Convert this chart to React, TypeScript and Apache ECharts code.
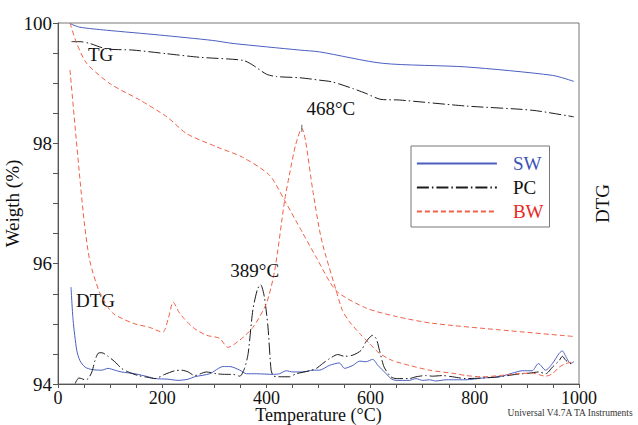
import React, { useEffect, useRef } from "react";
import * as echarts from "echarts";

// Temperature (°C), value pairs
const swTG: number[][] = [
  [23, 99.99], [42, 99.93], [93, 99.88], [195, 99.8], [297, 99.71], [336, 99.66],
  [464, 99.55], [502, 99.52], [623, 99.33], [783, 99.27], [949, 99.13], [990, 99.03],
];
const pcTG: number[][] = [
  [26, 99.69], [42, 99.69], [61, 99.66], [93, 99.57], [144, 99.55], [208, 99.49],
  [272, 99.43], [355, 99.38], [374, 99.3], [400, 99.15], [419, 99.11], [464, 99.09],
  [502, 99.05], [527, 99.02], [566, 98.91], [591, 98.83], [620, 98.73], [655, 98.72],
  [783, 98.62], [910, 98.55], [990, 98.44],
];
const bwTG: number[][] = [
  [23, 100], [36, 99.66], [55, 99.33], [100, 98.99], [157, 98.72], [209, 98.44],
  [247, 98.16], [305, 97.94], [354, 97.77], [406, 97.47], [435, 97.05], [469, 96.52],
  [496, 96.1], [534, 95.55], [592, 95.26], [650, 95.12], [718, 95.01], [847, 94.9],
  [990, 94.79],
];
const swDTG: number[][] = [
  [25, 95.61], [29, 95.06], [36, 94.56], [42, 94.39], [52, 94.28], [65, 94.24],
  [84, 94.23], [96, 94.26], [109, 94.23], [122, 94.2], [148, 94.17], [173, 94.12],
  [186, 94.09], [211, 94.08], [230, 94.06], [250, 94.08], [262, 94.12], [291, 94.17],
  [317, 94.29], [330, 94.29], [349, 94.23], [362, 94.17], [381, 94.17], [413, 94.16],
  [425, 94.17], [438, 94.22], [451, 94.2], [470, 94.2], [489, 94.23], [502, 94.23],
  [521, 94.31], [540, 94.35], [550, 94.26], [566, 94.31], [579, 94.38], [591, 94.37],
  [604, 94.41], [614, 94.31], [630, 94.17], [639, 94.09], [649, 94.06], [674, 94.06],
  [687, 94.09], [700, 94.06], [713, 94.07], [725, 94.05], [745, 94.07], [764, 94.07],
  [783, 94.07], [815, 94.1], [847, 94.12], [872, 94.18], [891, 94.22], [910, 94.22],
  [922, 94.34], [936, 94.23], [949, 94.34], [962, 94.51], [968, 94.55], [975, 94.45],
  [984, 94.34], [990, 94.37],
];
const pcDTG: number[][] = [
  [33, 94.01], [36, 94.06], [40, 94.1], [45, 94.09], [52, 94.07], [58, 94.09],
  [65, 94.2], [71, 94.39], [77, 94.51], [84, 94.52], [96, 94.46], [109, 94.37],
  [122, 94.26], [135, 94.2], [154, 94.14], [173, 94.11], [186, 94.09], [205, 94.16],
  [224, 94.22], [237, 94.23], [250, 94.2], [262, 94.14], [285, 94.2], [304, 94.17],
  [323, 94.16], [336, 94.16], [349, 94.13], [358, 94.26], [365, 94.51], [374, 95.23],
  [383, 95.58], [389, 95.65], [396, 95.45], [403, 94.95], [409, 94.23], [413, 94.14],
  [419, 94.12], [444, 94.12], [457, 94.17], [483, 94.22], [496, 94.26], [508, 94.34],
  [521, 94.42], [537, 94.49], [550, 94.46], [566, 94.48], [582, 94.56], [591, 94.7],
  [604, 94.81], [611, 94.75], [617, 94.56], [626, 94.28], [639, 94.12], [649, 94.09],
  [674, 94.09], [687, 94.12], [706, 94.14], [719, 94.13], [738, 94.14], [757, 94.12],
  [783, 94.09], [815, 94.1], [847, 94.12], [879, 94.16], [904, 94.18], [923, 94.2],
  [936, 94.17], [949, 94.28], [962, 94.39], [968, 94.46], [975, 94.39], [984, 94.34],
  [990, 94.38],
];
const bwDTG: number[][] = [
  [23, 99.22], [48, 96.88], [61, 96.05], [81, 95.5], [105, 95.18], [144, 95.01],
  [176, 94.94], [201, 94.86], [212, 95.1], [221, 95.36], [234, 95.17], [259, 94.94],
  [285, 94.81], [310, 94.76], [326, 94.61], [349, 94.73], [374, 94.94], [400, 95.34],
  [416, 95.89], [435, 97.05], [444, 97.47], [456, 97.97], [468, 98.25], [475, 98.05],
  [489, 97.22], [506, 96.39], [534, 95.55], [546, 95.22], [559, 95.04], [579, 94.84],
  [598, 94.67], [617, 94.51], [642, 94.39], [674, 94.31], [713, 94.23], [764, 94.17],
  [783, 94.14], [815, 94.12], [847, 94.14], [879, 94.17], [910, 94.18], [936, 94.13],
  [949, 94.17], [962, 94.28], [975, 94.34], [990, 94.37],
];

const xTicks = [0, 200, 400, 600, 800, 1000];
const yTicks = [94, 96, 98, 100];

const FONT = "Liberation Serif";
const BLUE = "#4a5fc0";
const BLACK = "#1c1c1c";
const RED = "#f0604a";

function peakOf(data: number[][]): number[] {
  return data.reduce((a, b) => (b[1] > a[1] ? b : a));
}

export default function App() {
  const ref = useRef<HTMLDivElement>(null);
  useEffect(() => {
    if (!ref.current) return;
    const chart = echarts.init(ref.current, null, { renderer: "svg" });
    const bwPeak = peakOf(bwDTG.filter((p) => p[0] > 300));
    const pcPeak = peakOf(pcDTG);
    const lineBase = { type: "line", showSymbol: false, symbol: "none", smooth: 0.25, z: 3 };
    chart.setOption({
      animation: false,
      backgroundColor: "#fff",
      textStyle: { fontFamily: FONT },
      grid: {
        left: 58, right: 59, top: 23, bottom: 41, show: true, borderColor: "#777", borderWidth: 1,
        containLabel: false, outerBoundsMode: "none",
      },
      xAxis: {
        type: "value", min: xTicks[0], max: xTicks[xTicks.length - 1], interval: 200,
        name: "Temperature (°C)", nameLocation: "middle", nameGap: 22, nameMoveOverlap: false,
        nameTextStyle: { fontFamily: FONT, fontSize: 18, color: "#111" },
        axisLine: { lineStyle: { color: "#555", width: 1 } },
        axisTick: { show: true, length: 4, lineStyle: { color: "#555" } },
        minorTick: { show: true, splitNumber: 4, length: 4, lineStyle: { color: "#555" } },
        splitLine: { show: false },
        axisLabel: {
          fontFamily: FONT, fontSize: 18, color: "#111", margin: 5,
          formatter: (v: number) => String(v),
        },
      },
      yAxis: [
        {
          type: "value", min: yTicks[0], max: yTicks[yTicks.length - 1], interval: 2,
          name: "Weigth (%)", nameLocation: "middle", nameGap: 36, nameRotate: 90, nameMoveOverlap: false,
          nameTextStyle: { fontFamily: FONT, fontSize: 19, color: "#111" },
          axisLine: { show: true, lineStyle: { color: "#555", width: 1 } },
          axisTick: { show: true, length: 5, lineStyle: { color: "#555" } },
          minorTick: { show: true, splitNumber: 4, length: 5, lineStyle: { color: "#555" } },
          splitLine: { show: false },
          axisLabel: { fontFamily: FONT, fontSize: 19, color: "#111", margin: 6 },
        },
        {
          type: "value", min: yTicks[0], max: yTicks[yTicks.length - 1], position: "right",
          name: "DTG", nameLocation: "middle", nameGap: 14, nameRotate: 90, nameMoveOverlap: false,
          nameTextStyle: { fontFamily: FONT, fontSize: 19, color: "#111" },
          axisLine: { show: false }, axisTick: { show: false }, axisLabel: { show: false },
          splitLine: { show: false },
        },
      ],
      legend: {
        orient: "vertical", left: 411, top: 146,
        backgroundColor: "#fff", borderColor: "#777", borderWidth: 1, borderRadius: 0,
        padding: [8, 6, 6, 5], itemWidth: 80, itemHeight: 12, itemGap: 5,
        lineStyle: { width: 1.8 },
        itemStyle: { opacity: 0, borderWidth: 0 },
        textStyle: { fontFamily: FONT, fontSize: 19, lineHeight: 16, padding: [0, 0, 0, 11] },
        data: [
          { name: "SW", textStyle: { color: "#3a52b8" } },
          { name: "PC", textStyle: { color: "#111" } },
          { name: "BW", textStyle: { color: "#e8281e" } },
        ],
      },
      graphic: [
        { type: "text", left: 88, top: 45, style: { text: "TG", font: `19px "${FONT}"`, fill: "#111" } },
        { type: "text", left: 76, top: 291, style: { text: "DTG", font: `19px "${FONT}"`, fill: "#111" } },
        {
          type: "text", right: 4, top: 408,
          style: { text: "Universal V4.7A TA Instruments", font: `9.5px "${FONT}"`, fill: "#333" },
        },
      ],
      series: [
        { ...lineBase, name: "SW", data: swTG, lineStyle: { color: BLUE, width: 1 }, itemStyle: { color: BLUE } },
        { ...lineBase, name: "PC", data: pcTG, lineStyle: { color: BLACK, width: 1, type: [12, 3, 1.5, 3] }, itemStyle: { color: BLACK } },
        { ...lineBase, name: "BW", data: bwTG, lineStyle: { color: RED, width: 1, type: [5, 3] }, itemStyle: { color: RED } },
        { ...lineBase, name: "SW", data: swDTG, lineStyle: { color: BLUE, width: 1 }, itemStyle: { color: BLUE } },
        {
          ...lineBase, name: "PC", data: pcDTG, lineStyle: { color: BLACK, width: 1, type: [12, 3, 1.5, 3] }, itemStyle: { color: BLACK },
          markPoint: {
            symbol: "circle", symbolSize: 0, silent: true,
            label: { show: true, position: "inside", offset: [-6, -14], formatter: `${pcPeak[0]}°C`, fontFamily: FONT, fontSize: 19, color: "#111" },
            data: [{ coord: pcPeak }],
          },
        },
        {
          ...lineBase, name: "BW", data: bwDTG, lineStyle: { color: RED, width: 1, type: [5, 3] }, itemStyle: { color: RED },
          markPoint: {
            symbol: "rect", symbolSize: [1, 7], silent: true, itemStyle: { color: "#666" },
            label: { show: true, position: "inside", offset: [29, -20], formatter: `${bwPeak[0]}°C`, fontFamily: FONT, fontSize: 19, color: "#111" },
            data: [{ coord: bwPeak }],
          },
        },
      ],
    });
    return () => chart.dispose();
  }, []);
  return <div ref={ref} style={{ width: 638, height: 425, position: "absolute", left: 0, top: 0 }} />;
}
